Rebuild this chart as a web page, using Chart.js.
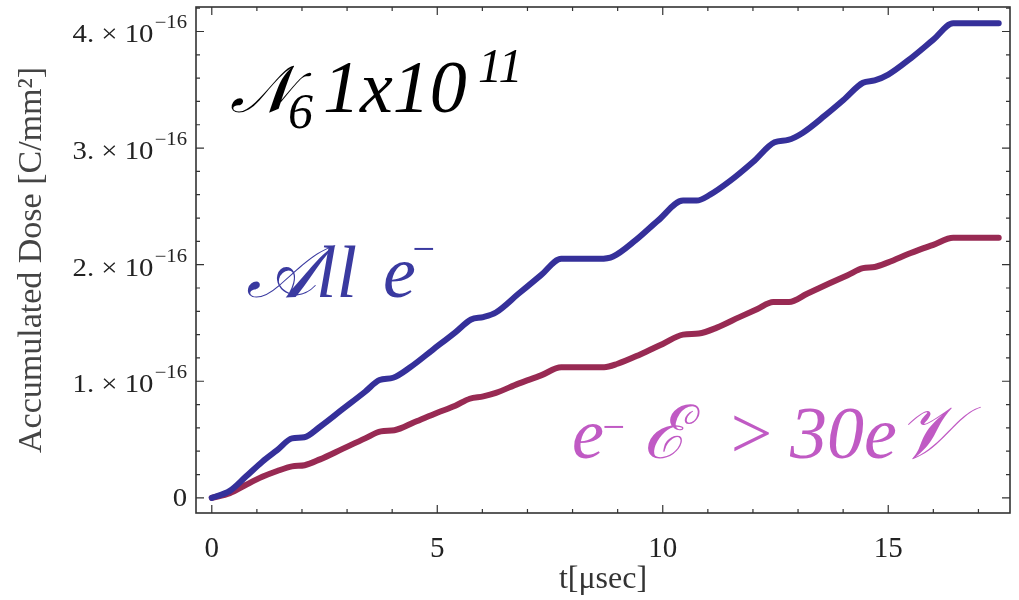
<!DOCTYPE html>
<html>
<head>
<meta charset="utf-8">
<script src="https://cdn.jsdelivr.net/npm/chart.js@4.4.1/dist/chart.umd.min.js"></script>
<style>
    html, body { margin: 0; padding: 0; background: #fff; }
</style>
</head>
<body>
<canvas id="dose_chart" width="1019" height="600"></canvas>
<script>
// all electrons: time [usec] and accumulated dose [1e-16 C/mm^2]
const timeAll = [0, 0.4, 0.75, 1.12, 1.45, 1.78, 2.05, 2.4, 2.9, 3.4, 3.72, 4.02, 4.4, 4.9, 5.4, 5.75, 6.02, 6.3, 6.8, 7.3, 7.75,
    8.6, 8.9, 9.4, 9.9, 10.45, 10.75, 11.05, 11.5, 12.0, 12.48, 12.78, 13.1, 13.6, 14.0, 14.44, 14.7, 15.0, 15.5, 16.0, 16.44, 17.45];
const doseAll = [0, 0.06, 0.18, 0.31, 0.41, 0.51, 0.52, 0.61, 0.76, 0.91, 1.01, 1.03, 1.12, 1.27, 1.42, 1.53, 1.55, 1.59, 1.75, 1.91, 2.05,
    2.05, 2.07, 2.21, 2.38, 2.55, 2.55, 2.60, 2.72, 2.88, 3.05, 3.07, 3.13, 3.28, 3.41, 3.56, 3.58, 3.63, 3.77, 3.93, 4.07, 4.07];

// electrons with E > 30 eV
const timeHigh = [0, 0.4, 0.75, 1.12, 1.45, 1.78, 2.06, 2.4, 2.9, 3.4, 3.75, 4.05, 4.5, 5.0, 5.4, 5.72, 6.02, 6.3, 6.8, 7.3, 7.75,
    8.7, 9.0, 9.5, 10.0, 10.45, 10.8, 11.2, 11.7, 12.1, 12.45, 12.8, 13.2, 13.7, 14.1, 14.44, 14.7, 15.0, 15.5, 16.0, 16.44, 17.45];
const doseHigh = [0, 0.04, 0.11, 0.18, 0.23, 0.27, 0.28, 0.33, 0.42, 0.51, 0.57, 0.58, 0.65, 0.73, 0.79, 0.85, 0.87, 0.90, 0.98, 1.05, 1.12,
    1.12, 1.15, 1.23, 1.32, 1.40, 1.41, 1.46, 1.55, 1.62, 1.68, 1.68, 1.75, 1.84, 1.91, 1.97, 1.98, 2.02, 2.10, 2.17, 2.23, 2.23];

const xTickValues = [0, 5, 10, 15];
const yTickValues = [0, 1, 2, 3, 4];
const yTickLabels = ["0", "1.", "2.", "3.", "4."];
const yTickExponent = "\u221216";

const SERIF = '"Liberation Serif", "DejaVu Serif", serif';

function toPoints(xs, ys) {
    return xs.map((x, i) => ({ x: x, y: ys[i] }));
}

// text runs: [text, x, baseline, size]
function drawRuns(ctx, runs, color, sx) {
    ctx.save();
    ctx.fillStyle = color;
    ctx.textAlign = "left";
    ctx.textBaseline = "alphabetic";
    runs.forEach(r => {
        ctx.save();
        ctx.translate(r[1], r[2]);
        ctx.scale(sx, 1);
        ctx.font = "italic " + r[3] + "px " + SERIF;
        ctx.fillText(r[0], 0, 0);
        ctx.restore();
    });
    ctx.restore();
}

const framePlugin = {
    id: "frame",
    afterDatasetsDraw(chart) {
        const ctx = chart.ctx;
        const a = chart.chartArea;
        const xs = chart.scales.x;
        const ys = chart.scales.y;
        ctx.save();
        ctx.strokeStyle = "#333";
        ctx.lineWidth = 1.6;
        ctx.strokeRect(a.left, a.top, a.right - a.left, a.bottom - a.top);

        ctx.lineWidth = 1.2;
        ctx.beginPath();
        for (let t = 0; t <= 17; t++) {
            const px = xs.getPixelForValue(t);
            const len = t % 5 === 0 ? 8 : 4;
            ctx.moveTo(px, a.bottom); ctx.lineTo(px, a.bottom - len);
            ctx.moveTo(px, a.top); ctx.lineTo(px, a.top + len);
        }
        for (let k = 0; k <= 21; k++) {
            const py = ys.getPixelForValue(k * 0.2);
            const len = k % 5 === 0 ? 8 : 4;
            ctx.moveTo(a.left, py); ctx.lineTo(a.left + len, py);
            ctx.moveTo(a.right, py); ctx.lineTo(a.right - len, py);
        }
        ctx.stroke();

        // y tick labels in Mathematica style: "4.×10^-16"
        ctx.fillStyle = "#222";
        ctx.textAlign = "right";
        ctx.textBaseline = "alphabetic";
        yTickValues.forEach((v, i) => {
            const py = ys.getPixelForValue(v);
            ctx.save();
            ctx.translate(a.left - 9, py);
            ctx.scale(1.15, 1);
            if (v === 0) {
                ctx.font = "25px " + SERIF;
                ctx.fillText(yTickLabels[i], 0, 8);
            } else {
                ctx.font = "18px " + SERIF;
                ctx.fillText(yTickExponent, 0, -3);
                const w = ctx.measureText(yTickExponent).width;
                ctx.font = "25px " + SERIF;
                ctx.fillText(yTickLabels[i] + " \u00d7 10", -w - 1, 11);
            }
            ctx.restore();
        });
        ctx.restore();

        // annotations
        drawRuns(ctx, [["\ud835\udca9", 230, 112, 66], ["6", 288, 128, 50], ["1x10", 323, 112, 74], ["11", 478, 82, 48]], "#000", 1.0);
        drawRuns(ctx, [["\ud835\udc9cll", 246, 297, 74], ["e", 383, 297, 74], ["\u2212", 410, 262, 40]], "#3a3aa0", 1.0);
        drawRuns(ctx, [["e", 572, 458, 72], ["\u2212", 600, 440, 40], ["\u2130", 643, 458, 74], [">", 726, 458, 74], ["30e\ud835\udcb1", 790, 458, 74]], "#c05ac4", 1.0);
    }
};

function createDoseChart() {
    let chart = document.getElementById("dose_chart");
    const data = {
        datasets: [{
            label: "All e-",
            data: toPoints(timeAll, doseAll),
            borderColor: "#35309a",
            borderWidth: 6,
            pointRadius: 0,
            cubicInterpolationMode: "monotone",
            borderCapStyle: "round",
            borderJoinStyle: "round"
        }, {
            label: "e- E > 30eV",
            data: toPoints(timeHigh, doseHigh),
            borderColor: "#982a53",
            borderWidth: 6,
            pointRadius: 0,
            cubicInterpolationMode: "monotone",
            borderCapStyle: "round",
            borderJoinStyle: "round"
        }]
    };

    const config = {
        type: "line",
        data: data,
        plugins: [framePlugin],
        options: {
            responsive: false,
            animation: false,
            layout: { padding: { left: 0, right: 9, top: 7, bottom: 0 } },
            plugins: {
                legend: { display: false },
                tooltip: { enabled: false }
            },
            scales: {
                x: {
                    type: "linear",
                    min: -0.35,
                    max: 17.7,
                    afterBuildTicks: s => { s.ticks = xTickValues.map(v => ({ value: v })); },
                    afterFit: s => { s.height = 87; },
                    grid: { display: false, drawTicks: false },
                    border: { display: false },
                    ticks: {
                        color: "#222",
                        padding: 19,
                        maxRotation: 0,
                        font: { family: SERIF, size: 29 },
                        callback: v => String(v)
                    },
                    title: {
                        display: true,
                        text: "t[\u03bcsec]",
                        color: "#333",
                        font: { family: SERIF, size: 32 },
                        padding: { top: 0, bottom: 1 }
                    }
                },
                y: {
                    type: "linear",
                    min: -0.13,
                    max: 4.21,
                    afterFit: s => { s.width = 196; },
                    grid: { display: false, drawTicks: false },
                    border: { display: false },
                    ticks: { display: false },
                    title: {
                        display: true,
                        text: "Accumulated Dose [C/mm\u00b2]",
                        color: "#444",
                        font: { family: SERIF, size: 34 },
                        padding: { top: 12, bottom: 0 }
                    }
                }
            }
        }
    };

    const myChart = new Chart(chart, config);
}

createDoseChart();
</script>
</body>
</html>
